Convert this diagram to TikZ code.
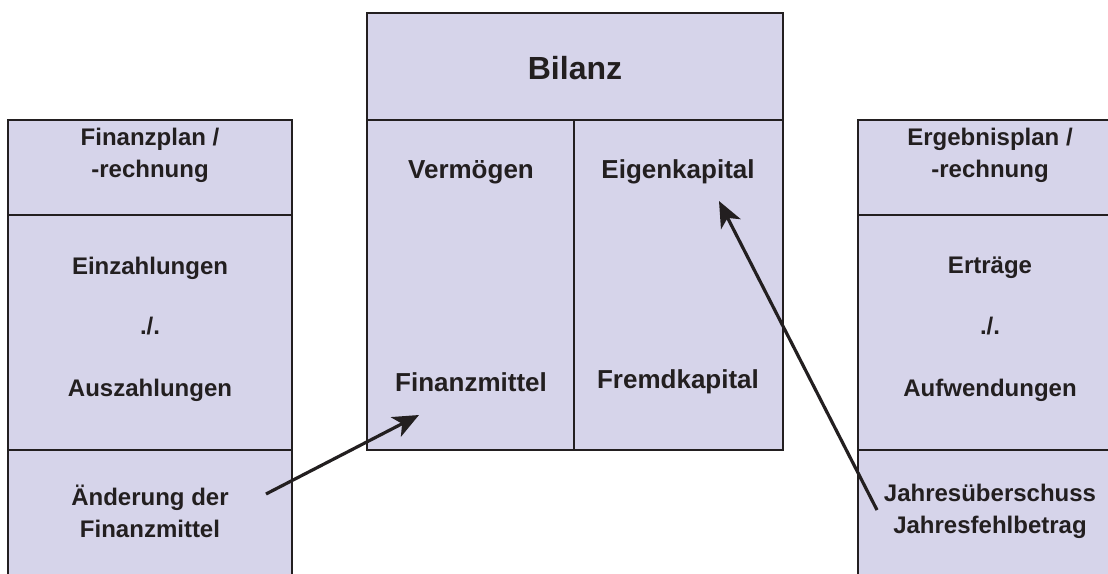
\documentclass[tikz,border=0pt]{standalone}
\usepackage{fontspec}
\setmainfont{Liberation Sans}
\usetikzlibrary{arrows.meta}
\definecolor{boxfill}{HTML}{D6D4EA}
\definecolor{ink}{HTML}{231F20}
\tikzset{
  panel/.style={fill=boxfill, draw=ink, line width=2.4pt},
  rule/.style={draw=ink, line width=2.4pt},
  lbl/.style={text=ink, font=\bfseries\fontsize{24}{32}\selectfont, align=center, inner sep=0pt},
  mid/.style={text=ink, font=\bfseries\fontsize{26}{32}\selectfont, align=center, inner sep=0pt},
  big/.style={text=ink, font=\bfseries\fontsize{32}{36}\selectfont, inner sep=0pt},
  link/.style={draw=ink, line width=3.2pt, -{Stealth[length=26pt,width=22pt,inset=7pt]}}
}
\begin{document}
\begin{tikzpicture}[x=1pt,y=-1pt]
\useasboundingbox (0,0) rectangle (1108,573);
% left panel
\fill[boxfill] (8,120) rectangle (292,580);
\draw[rule] (8,580) -- (8,120) -- (292,120) -- (292,580);
\draw[rule] (8,215) -- (292,215);
\draw[rule] (8,450) -- (292,450);
% right panel (runs past the right edge)
\fill[boxfill] (858,120) rectangle (1125,580);
\draw[rule] (858,580) -- (858,120) -- (1125,120);
\draw[rule] (858,215) -- (1125,215);
\draw[rule] (858,450) -- (1125,450);
% center panel
\draw[panel] (367,13) rectangle (783,450);
\draw[rule] (367,120) -- (783,120);
\draw[rule] (574,120) -- (574,450);
% texts left
\node[lbl] (fp) at (150,155) {Finanzplan /\\-rechnung};
\node[lbl] (ein) at (150,268) {Einzahlungen};
\node[lbl] (lminus) at (150,326) {./.};
\node[lbl] (aus) at (150,390) {Auszahlungen};
\node[lbl] (aend) at (150,511) {Änderung der\\Finanzmittel};
% texts center
\node[big] (bil) at (575,68) {Bilanz};
\node[mid] (verm) at (471,172) {Vermögen};
\node[mid] (eigen) at (678,172) {Eigenkapital};
\node[mid] (fm) at (471,382) {Finanzmittel};
\node[mid] (fremd) at (678,382) {Fremdkapital};
% texts right
\node[lbl] (ep) at (990,155) {Ergebnisplan /\\-rechnung};
\node[lbl] (ert) at (990,268) {Erträge};
\node[lbl] (rminus) at (990,326) {./.};
\node[lbl] (aufw) at (990,390) {Aufwendungen};
\node[lbl] (jue) at (990,511) {Jahresüberschuss\\Jahresfehlbetrag};
% arrows
\coordinate (a1s) at (266,494);
\coordinate (a1e) at (419,415);
\coordinate (a2s) at (877,510);
\coordinate (a2e) at (719,201);
\draw[link] (a1s) -- (a1e);
\draw[link] (a2s) -- (a2e);
\end{tikzpicture}
\end{document}
